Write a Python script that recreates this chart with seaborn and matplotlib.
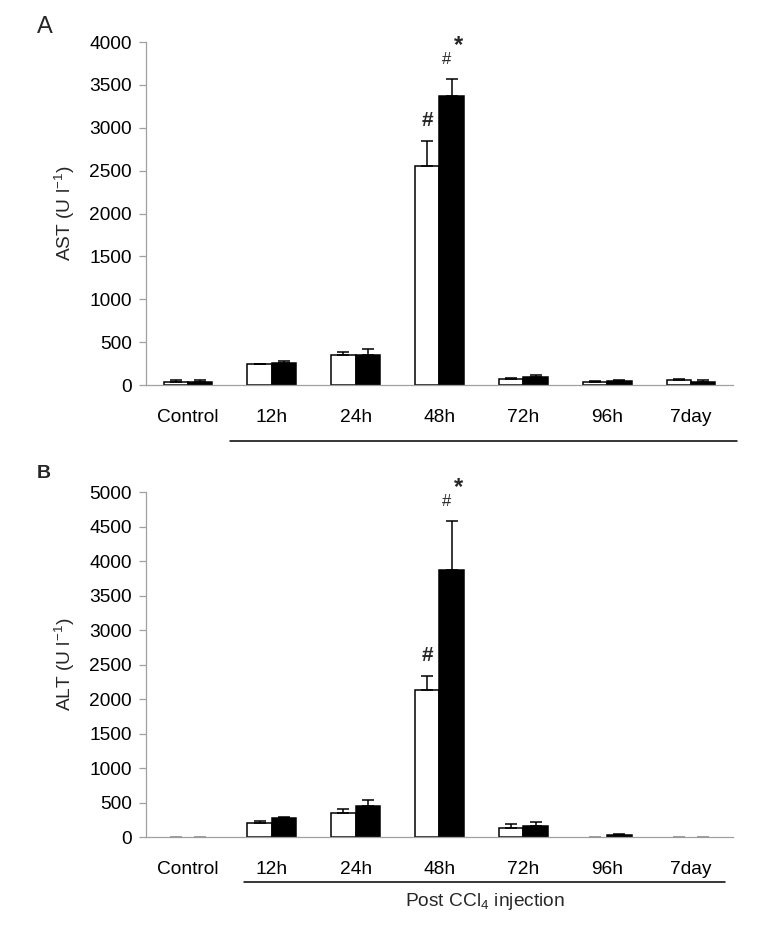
import numpy as np
import pandas as pd
import matplotlib
matplotlib.use("Agg")
import matplotlib.pyplot as plt
import matplotlib.transforms as mtransforms
from matplotlib.container import BarContainer
import seaborn as sns

# ---------------- data ----------------
categories = ['Control', '12h', '24h', '48h', '72h', '96h', '7day']
groups = ['Group 1', 'Group 2']

ast_g1 = [33, 240, 345, 2550, 70, 31, 58]
ast_g1_err = [22, 0, 35, 290, 15, 19, 12]
ast_g2 = [33, 255, 345, 3365, 90, 52, 35]
ast_g2_err = [22, 30, 70, 200, 30, 3, 20]

alt_g1 = [0, 210, 345, 2135, 140, 0, 0]
alt_g1_err = [0, 25, 65, 200, 50, 0, 0]
alt_g2 = [0, 280, 460, 3870, 170, 30, 0]
alt_g2_err = [0, 20, 85, 720, 45, 20, 0]

ast_ticks = list(range(0, 4001, 500))
alt_ticks = list(range(0, 5001, 500))

# ---------------- style ----------------
sns.set_theme(style='white')
plt.rcParams['font.family'] = ['Liberation Sans', 'DejaVu Sans']
plt.rcParams['mathtext.fontset'] = 'custom'
plt.rcParams['mathtext.rm'] = 'Liberation Sans'
plt.rcParams['mathtext.it'] = 'Liberation Sans:italic'
plt.rcParams['mathtext.bf'] = 'Liberation Sans:bold'

FS = 13.8
AX_GRAY = '#a0a0a0'

fig = plt.figure(figsize=(7.58, 9.40), dpi=100)
axA = fig.add_axes([0.1926, 0.5904, 0.967 - 0.1926, 0.9553 - 0.5904])
axB = fig.add_axes([0.1926, 0.1093, 0.967 - 0.1926, 0.4763 - 0.1093])


def make_df(g1, g2):
    return pd.DataFrame({
        'cat': categories * 2,
        'grp': [groups[0]] * len(categories) + [groups[1]] * len(categories),
        'val': list(g1) + list(g2),
    })


def draw(ax, g1, g1e, g2, g2e, ticks, ylabel):
    df = make_df(g1, g2)
    sns.barplot(data=df, x='cat', y='val', hue='grp', order=categories,
                hue_order=groups, palette={groups[0]: 'white', groups[1]: 'black'},
                edgecolor='black', linewidth=1.1, width=0.58, gap=0,
                errorbar=None, legend=False, ax=ax, saturation=1)
    bar_conts = [c for c in ax.containers if isinstance(c, BarContainer)]
    errs = [g1e, g2e]
    vals = [g1, g2]
    tops = []
    for gi, cont in enumerate(bar_conts):
        row = []
        for i, p in enumerate(cont.patches):
            x = p.get_x() + p.get_width() / 2
            h = p.get_height()
            e = errs[gi][i]
            if vals[gi][i] == 0:
                p.set_linewidth(0)
                col = '#9a9a9a'
            else:
                col = 'black'
            ax.errorbar([x], [h], yerr=[[0], [e]], fmt='none', ecolor=col,
                        elinewidth=1.1, capsize=4, capthick=1.1, zorder=3)
            row.append((x, h + e))
        tops.append(row)
    ax.set_xlim(-0.5, 6.5)
    ax.set_ylim(0, ticks[-1])
    ax.set_yticks(ticks)
    ax.set_yticklabels([str(t) for t in ticks], fontsize=FS)
    ax.set_xticks(range(len(categories)))
    ax.set_xticklabels(categories, fontsize=FS)
    ax.set_xlabel('')
    ax.set_ylabel(ylabel, fontsize=FS)
    ax.yaxis.set_label_coords(-0.118, 0.5)
    for s in ['top', 'right']:
        ax.spines[s].set_visible(False)
    for s in ['left', 'bottom']:
        ax.spines[s].set_color(AX_GRAY)
        ax.spines[s].set_linewidth(0.9)
    ax.tick_params(axis='y', left=True, length=5, width=0.9, color=AX_GRAY,
                   pad=5, labelcolor='black')
    ax.tick_params(axis='x', bottom=False, length=0, pad=17, labelcolor='black')
    # significance marks on 48h
    xw, yw = tops[0][3]
    xb, yb = tops[1][3]
    ax.annotate('#', xy=(xw, yw), xytext=(0, 15), textcoords='offset points',
                ha='center', va='center', fontsize=15, fontweight='bold')
    ax.annotate('#', xy=(xb, yb), xytext=(-4, 14), textcoords='offset points',
                ha='center', va='center', fontsize=12)
    ax.annotate('*', xy=(xb, yb), xytext=(5, 24), textcoords='offset points',
                ha='center', va='center', fontsize=17, fontweight='bold')
    return tops


draw(axA, ast_g1, ast_g1_err, ast_g2, ast_g2_err, ast_ticks, 'AST (U l$^{-1}$)')
draw(axB, alt_g1, alt_g1_err, alt_g2, alt_g2_err, alt_ticks, 'ALT (U l$^{-1}$)')

# brackets under post-injection time points
trA = mtransforms.blended_transform_factory(axA.transData, axA.transAxes)
axA.plot([0.5, 6.55], [-0.162, -0.162], color='black', lw=1.1,
         transform=trA, clip_on=False)
trB = mtransforms.blended_transform_factory(axB.transData, axB.transAxes)
axB.plot([0.67, 6.4], [-0.1287, -0.1287], color='black', lw=1.1,
         transform=trB, clip_on=False)
axB.text(3.54, -0.187, 'Post CCl$_4$ injection', transform=trB,
         ha='center', va='center', fontsize=FS)

fig.text(45 / 758, 1 - 27 / 940, 'A', ha='center', va='center', fontsize=17)
fig.text(44 / 758, 1 - 474 / 940, 'B', ha='center', va='center', fontsize=14,
         fontweight='bold')

fig.savefig('out.png', dpi=100, facecolor='white')
